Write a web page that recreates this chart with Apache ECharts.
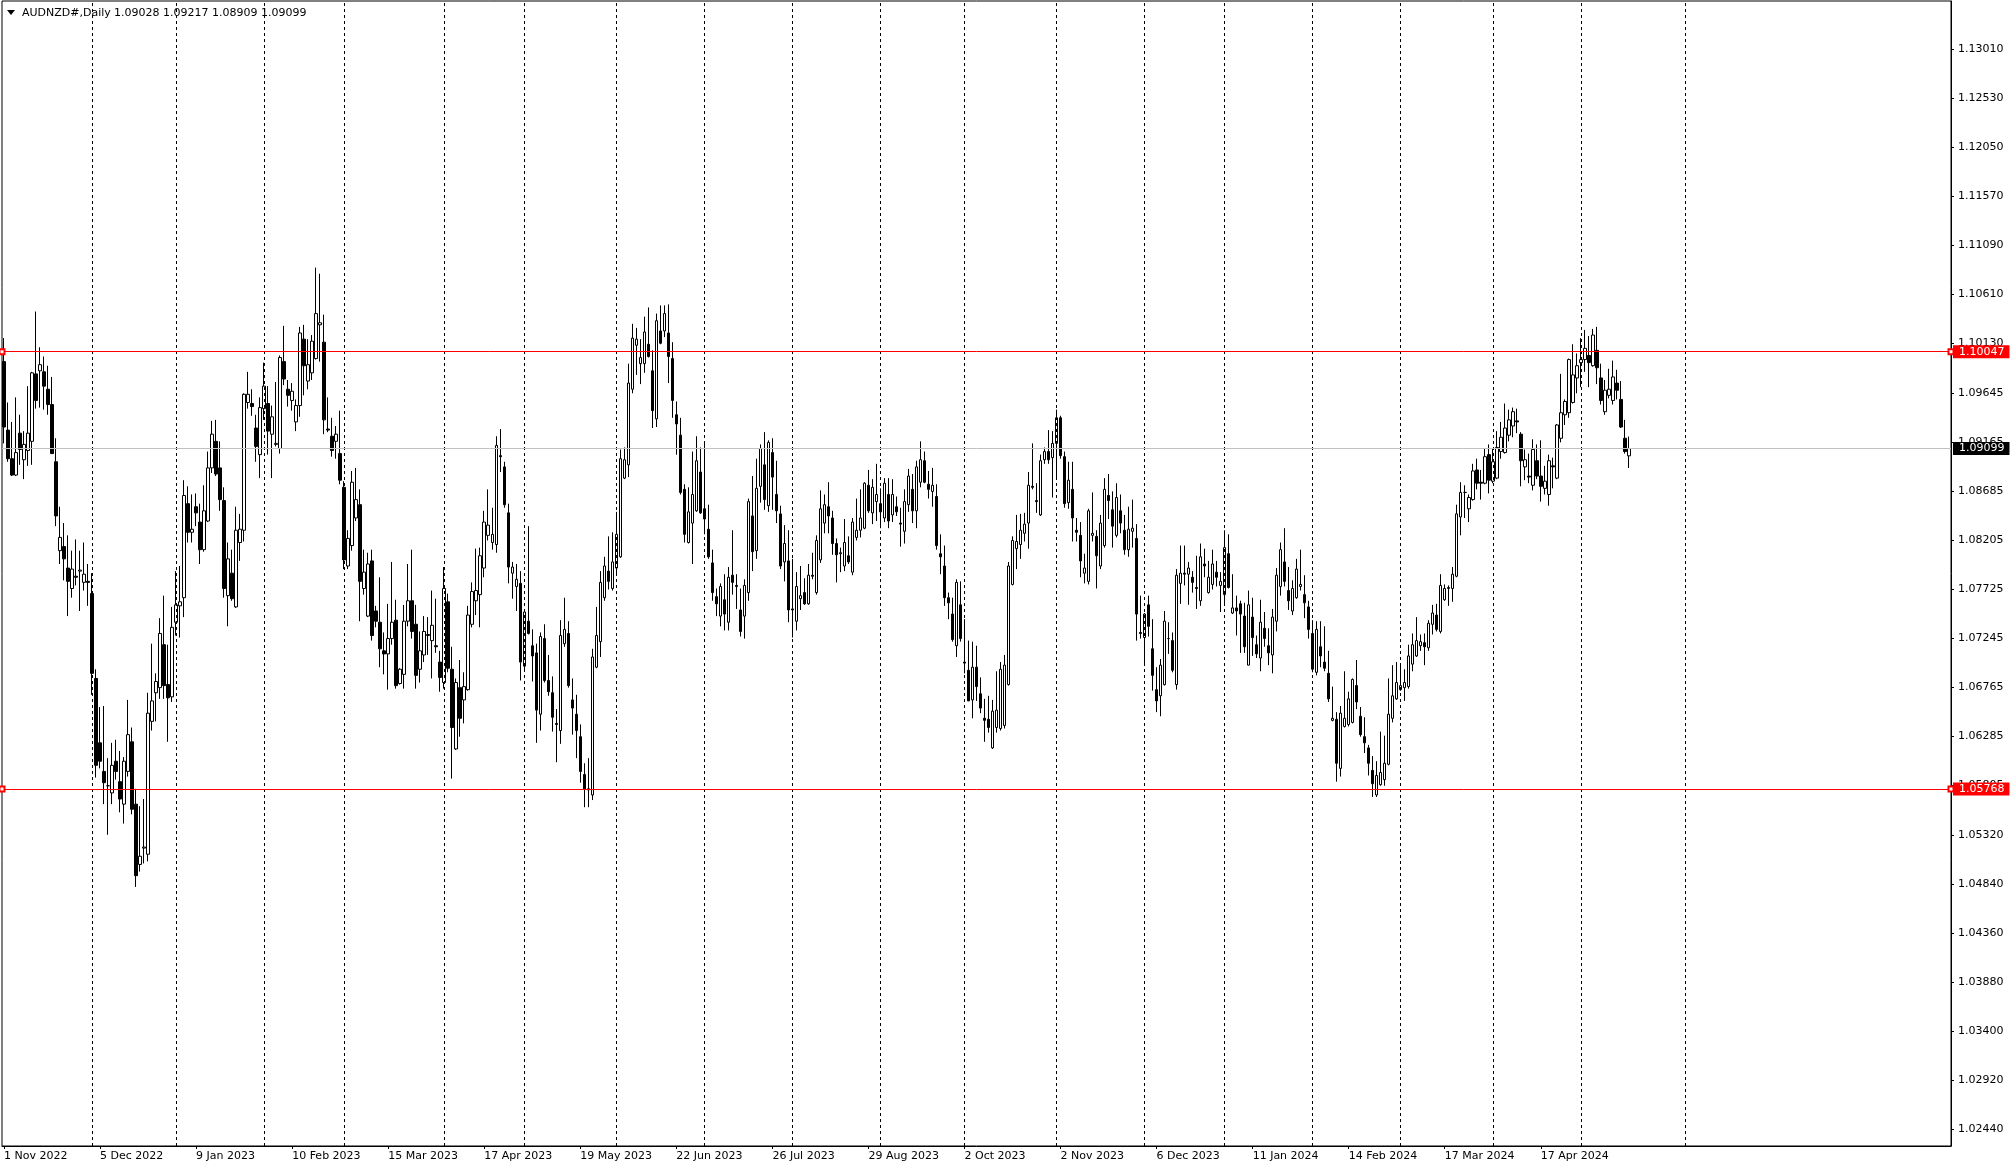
<!DOCTYPE html>
<html><head><meta charset="utf-8">
<script src="https://cdn.jsdelivr.net/npm/echarts@6/dist/echarts.min.js"></script>
<style>html,body{margin:0;padding:0;background:#fff}#c{width:2015px;height:1170px}</style>
</head><body><div id="c"></div>
<script>
const symbolName = 'AUDNZD#,Daily';
const dateLabels = ['1 Nov 2022','5 Dec 2022','9 Jan 2023','10 Feb 2023','15 Mar 2023','17 Apr 2023','19 May 2023','22 Jun 2023','26 Jul 2023','29 Aug 2023','2 Oct 2023','2 Nov 2023','6 Dec 2023','11 Jan 2024','14 Feb 2024','17 Mar 2024','17 Apr 2024'];
const priceTicks = [1.13010,1.12530,1.12050,1.11570,1.11090,1.10610,1.10130,1.09645,1.09165,1.08685,1.08205,1.07725,1.07245,1.06765,1.06285,1.05805,1.05320,1.04840,1.04360,1.03880,1.03400,1.02920,1.02440];
const levels = [1.10047, 1.05768];
const lastPrice = 1.09099;
const separators = [22,43,65,85,110,130,153,175,197,219,240,263,285,305,327,349,372,394,420];
// [open, high, low, close]
const ohlc = [
[1.0995,1.1018,1.0915,1.0931],[1.0928,1.0955,1.0897,1.0900],[1.0900,1.0936,1.0883,1.0884],[1.0884,1.0960,1.0883,1.0906],[1.0925,1.0943,1.0894,1.0909],
[1.0899,1.0927,1.0880,1.0914],[1.0908,1.0971,1.0893,1.0925],[1.0917,1.0985,1.0894,1.0984],[1.0983,1.1044,1.0949,1.0957],[1.0986,1.1009,1.0950,1.0992],
[1.0985,1.1000,1.0948,1.0971],[1.0968,1.0991,1.0943,1.0953],[1.0953,1.0980,1.0905,1.0905],[1.0897,1.0920,1.0834,1.0844],[1.0810,1.0853,1.0797,1.0823],
[1.0814,1.0837,1.0781,1.0802],[1.0793,1.0825,1.0746,1.0780],[1.0773,1.0810,1.0764,1.0792],[1.0785,1.0821,1.0776,1.0784],[1.0790,1.0810,1.0751,1.0791],
[1.0779,1.0818,1.0771,1.0787],[1.0780,1.0797,1.0756,1.0779],[1.0768,1.0788,1.0669,1.0690],[1.0685,1.0694,1.0588,1.0600],[1.0622,1.0657,1.0597,1.0604],
[1.0594,1.0658,1.0562,1.0583],[1.0580,1.0607,1.0532,1.0580],[1.0573,1.0622,1.0562,1.0600],[1.0604,1.0625,1.0586,1.0594],[1.0584,1.0614,1.0554,1.0567],
[1.0562,1.0608,1.0543,1.0604],[1.0594,1.0664,1.0589,1.0630],[1.0623,1.0637,1.0552,1.0557],[1.0562,1.0577,1.0481,1.0492],[1.0503,1.0560,1.0496,1.0511],
[1.0519,1.0567,1.0504,1.0520],[1.0513,1.0671,1.0506,1.0651],[1.0643,1.0719,1.0634,1.0663],[1.0671,1.0690,1.0643,1.0682],[1.0676,1.0744,1.0665,1.0729],
[1.0718,1.0766,1.0665,1.0678],[1.0679,1.0718,1.0623,1.0666],[1.0667,1.0755,1.0662,1.0735],[1.0740,1.0790,1.0727,1.0757],[1.0756,1.0795,1.0725,1.0760],
[1.0764,1.0879,1.0745,1.0864],[1.0856,1.0873,1.0818,1.0828],[1.0828,1.0865,1.0818,1.0831],[1.0853,1.0866,1.0834,1.0847],[1.0838,1.0856,1.0797,1.0811],
[1.0811,1.0874,1.0809,1.0849],[1.0839,1.0907,1.0838,1.0891],[1.0891,1.0937,1.0886,1.0924],[1.0917,1.0938,1.0883,1.0885],[1.0891,1.0917,1.0849,1.0860],
[1.0859,1.0872,1.0764,1.0773],[1.0766,1.0818,1.0736,1.0802],[1.0788,1.0811,1.0761,1.0763],[1.0755,1.0853,1.0754,1.0830],[1.0818,1.0846,1.0800,1.0831],
[1.0830,1.0964,1.0819,1.0963],[1.0955,1.0985,1.0949,1.0963],[1.0954,1.0968,1.0942,1.0951],[1.0930,1.0943,1.0897,1.0912],[1.0904,1.0960,1.0881,1.0950],
[1.0949,1.0994,1.0938,1.0971],[1.0954,1.0971,1.0904,1.0927],[1.0924,1.0952,1.0881,1.0941],[1.0914,1.0975,1.0912,1.0915],[1.0910,1.1001,1.0905,1.0999],
[1.0995,1.1030,1.0972,1.0978],[1.0968,1.0977,1.0951,1.0962],[1.0957,1.0974,1.0947,1.0966],[1.0936,1.0958,1.0927,1.0952],[1.0952,1.1029,1.0941,1.1023],
[1.1017,1.1031,1.0962,1.0991],[1.0976,1.1017,1.0968,1.0992],[1.0984,1.1021,1.0977,1.1015],[1.0998,1.1087,1.0997,1.1042],[1.1031,1.1081,1.0995,1.1033],
[1.1014,1.1041,1.0924,1.0938],[1.0929,1.0960,1.0926,1.0928],[1.0922,1.0940,1.0902,1.0908],[1.0917,1.0932,1.0900,1.0924],[1.0905,1.0947,1.0875,1.0879],
[1.0872,1.0878,1.0792,1.0801],[1.0795,1.0830,1.0792,1.0822],[1.0815,1.0888,1.0810,1.0877],[1.0842,1.0891,1.0839,1.0860],[1.0855,1.0870,1.0741,1.0780],
[1.0773,1.0811,1.0767,1.0789],[1.0746,1.0808,1.0745,1.0797],[1.0800,1.0811,1.0722,1.0727],[1.0751,1.0756,1.0735,1.0741],[1.0740,1.0784,1.0696,1.0714],
[1.0712,1.0730,1.0689,1.0709],[1.0709,1.0758,1.0674,1.0724],[1.0724,1.0799,1.0718,1.0740],[1.0742,1.0762,1.0675,1.0678],[1.0680,1.0695,1.0679,1.0694],
[1.0689,1.0757,1.0675,1.0741],[1.0741,1.0797,1.0736,1.0761],[1.0761,1.0811,1.0724,1.0731],[1.0738,1.0757,1.0675,1.0688],[1.0694,1.0731,1.0681,1.0712],
[1.0708,1.0746,1.0701,1.0731],[1.0727,1.0745,1.0708,1.0728],[1.0722,1.0771,1.0685,1.0737],[1.0717,1.0763,1.0710,1.0716],[1.0701,1.0712,1.0672,1.0686],
[1.0681,1.0794,1.0675,1.0773],[1.0760,1.0768,1.0691,1.0695],[1.0694,1.0716,1.0587,1.0637],[1.0616,1.0685,1.0615,1.0681],[1.0676,1.0703,1.0628,1.0646],
[1.0664,1.0691,1.0641,1.0677],[1.0674,1.0756,1.0673,1.0747],[1.0738,1.0779,1.0735,1.0770],[1.0761,1.0812,1.0747,1.0771],[1.0767,1.0813,1.0735,1.0805],
[1.0793,1.0849,1.0784,1.0838],[1.0825,1.0870,1.0820,1.0835],[1.0818,1.0852,1.0811,1.0826],[1.0816,1.0922,1.0808,1.0913],[1.0903,1.0929,1.0887,1.0902],
[1.0892,1.0897,1.0852,1.0855],[1.0847,1.0856,1.0778,1.0794],[1.0788,1.0799,1.0763,1.0794],[1.0775,1.0797,1.0751,1.0782],[1.0778,1.0790,1.0683,1.0701],
[1.0697,1.0751,1.0694,1.0750],[1.0741,1.0834,1.0728,1.0729],[1.0717,1.0733,1.0682,1.0707],[1.0710,1.0719,1.0622,1.0654],[1.0650,1.0730,1.0634,1.0726],
[1.0724,1.0738,1.0681,1.0683],[1.0683,1.0708,1.0668,1.0672],[1.0671,1.0687,1.0633,1.0647],[1.0641,1.0655,1.0603,1.0640],[1.0634,1.0742,1.0621,1.0727],
[1.0719,1.0764,1.0716,1.0733],[1.0729,1.0741,1.0676,1.0678],[1.0664,1.0685,1.0630,1.0656],[1.0650,1.0669,1.0607,1.0634],[1.0628,1.0640,1.0583,1.0594],
[1.0591,1.0602,1.0559,1.0577],[1.0577,1.0607,1.0559,1.0576],[1.0571,1.0714,1.0566,1.0706],[1.0696,1.0755,1.0695,1.0727],[1.0721,1.0790,1.0706,1.0779],
[1.0764,1.0804,1.0761,1.0795],[1.0790,1.0824,1.0772,1.0780],[1.0773,1.0828,1.0771,1.0799],[1.0793,1.0848,1.0786,1.0826],[1.0804,1.0909,1.0803,1.0900],
[1.0881,1.0911,1.0880,1.0899],[1.0894,1.0993,1.0882,1.0974],[1.0968,1.1032,1.0964,1.1018],[1.1011,1.1028,1.0982,1.1017],[1.0993,1.1017,1.0973,1.0999],
[1.0993,1.1039,1.0984,1.1024],[1.1012,1.1048,1.0999,1.1000],[1.0986,1.1006,1.0930,1.0947],[1.0939,1.1042,1.0931,1.1035],[1.1025,1.1050,1.1012,1.1013],
[1.1025,1.1050,1.1019,1.1042],[1.1023,1.1051,1.0974,1.1000],[1.0998,1.1014,1.0940,1.0957],[1.0943,1.0956,1.0904,1.0934],[1.0923,1.0940,1.0865,1.0867],
[1.0870,1.0875,1.0818,1.0826],[1.0818,1.0872,1.0817,1.0848],[1.0837,1.0907,1.0797,1.0865],[1.0849,1.0922,1.0848,1.0898],[1.0887,1.0911,1.0846,1.0847],
[1.0851,1.0916,1.0826,1.0841],[1.0831,1.0855,1.0802,1.0804],[1.0798,1.0811,1.0761,1.0769],[1.0765,1.0773,1.0746,1.0758],[1.0746,1.0778,1.0736,1.0775],
[1.0762,1.0787,1.0732,1.0748],[1.0740,1.0794,1.0732,1.0784],[1.0786,1.0830,1.0767,1.0779],[1.0776,1.0787,1.0753,1.0775],[1.0752,1.0773,1.0726,1.0731],
[1.0746,1.0782,1.0724,1.0776],[1.0769,1.0861,1.0761,1.0858],[1.0844,1.0883,1.0790,1.0809],[1.0810,1.0900,1.0802,1.0871],[1.0873,1.0914,1.0857,1.0910],
[1.0894,1.0926,1.0850,1.0860],[1.0854,1.0918,1.0848,1.0916],[1.0906,1.0920,1.0850,1.0882],[1.0865,1.0898,1.0837,1.0849],[1.0846,1.0854,1.0792,1.0795],
[1.0799,1.0835,1.0780,1.0817],[1.0800,1.0830,1.0740,1.0752],[1.0752,1.0802,1.0725,1.0753],[1.0741,1.0789,1.0732,1.0775],[1.0763,1.0795,1.0752,1.0766],
[1.0769,1.0783,1.0757,1.0758],[1.0758,1.0797,1.0757,1.0786],[1.0786,1.0808,1.0782,1.0785],[1.0769,1.0825,1.0767,1.0820],[1.0801,1.0869,1.0798,1.0851],
[1.0837,1.0865,1.0827,1.0855],[1.0853,1.0877,1.0827,1.0844],[1.0842,1.0849,1.0806,1.0817],[1.0817,1.0822,1.0779,1.0806],[1.0807,1.0813,1.0789,1.0808],
[1.0795,1.0841,1.0790,1.0818],[1.0805,1.0824,1.0797,1.0799],[1.0789,1.0842,1.0786,1.0838],[1.0823,1.0861,1.0820,1.0830],[1.0830,1.0870,1.0823,1.0842],
[1.0832,1.0877,1.0831,1.0876],[1.0874,1.0889,1.0847,1.0849],[1.0847,1.0880,1.0836,1.0872],[1.0858,1.0895,1.0839,1.0865],[1.0856,1.0871,1.0832,1.0848],
[1.0842,1.0881,1.0838,1.0876],[1.0865,1.0881,1.0832,1.0839],[1.0845,1.0880,1.0838,1.0865],[1.0853,1.0863,1.0844,1.0848],[1.0837,1.0852,1.0814,1.0836],
[1.0829,1.0870,1.0817,1.0858],[1.0855,1.0890,1.0848,1.0883],[1.0870,1.0885,1.0837,1.0849],[1.0849,1.0898,1.0832,1.0892],[1.0877,1.0917,1.0872,1.0899],
[1.0898,1.0907,1.0876,1.0877],[1.0875,1.0888,1.0861,1.0870],[1.0868,1.0891,1.0853,1.0874],[1.0863,1.0875,1.0811,1.0815],[1.0807,1.0826,1.0787,1.0804],
[1.0795,1.0815,1.0756,1.0764],[1.0764,1.0769,1.0743,1.0759],[1.0748,1.0764,1.0721,1.0723],[1.0717,1.0782,1.0706,1.0779],[1.0757,1.0780,1.0721,1.0724],
[1.0701,1.0743,1.0690,1.0700],[1.0693,1.0722,1.0663,1.0663],[1.0664,1.0721,1.0646,1.0696],[1.0696,1.0717,1.0663,1.0677],[1.0670,1.0686,1.0651,1.0656],
[1.0646,1.0665,1.0623,1.0644],[1.0645,1.0668,1.0632,1.0637],[1.0617,1.0664,1.0616,1.0653],[1.0637,1.0692,1.0632,1.0654],[1.0636,1.0701,1.0634,1.0694],
[1.0639,1.0708,1.0636,1.0698],[1.0679,1.0799,1.0678,1.0795],[1.0777,1.0824,1.0776,1.0820],[1.0812,1.0845,1.0792,1.0819],[1.0816,1.0846,1.0802,1.0830],
[1.0827,1.0847,1.0819,1.0836],[1.0837,1.0887,1.0812,1.0874],[1.0873,1.0915,1.0870,1.0872],[1.0859,1.0876,1.0847,1.0858],[1.0845,1.0904,1.0844,1.0898],
[1.0899,1.0911,1.0895,1.0907],[1.0907,1.0928,1.0895,1.0899],[1.0901,1.0927,1.0862,1.0915],[1.0915,1.0948,1.0881,1.0940],[1.0940,1.0942,1.0900,1.0903],
[1.0902,1.0907,1.0852,1.0856],[1.0857,1.0897,1.0851,1.0879],[1.0870,1.0897,1.0819,1.0842],[1.0830,1.0842,1.0819,1.0828],[1.0825,1.0838,1.0784,1.0800],
[1.0788,1.0807,1.0778,1.0793],[1.0780,1.0851,1.0777,1.0849],[1.0825,1.0867,1.0819,1.0827],[1.0824,1.0830,1.0773,1.0805],[1.0795,1.0845,1.0792,1.0837],
[1.0815,1.0881,1.0813,1.0870],[1.0864,1.0885,1.0841,1.0859],[1.0850,1.0868,1.0813,1.0834],[1.0825,1.0876,1.0823,1.0862],[1.0849,1.0865,1.0827,1.0837],
[1.0830,1.0845,1.0806,1.0811],[1.0811,1.0853,1.0804,1.0831],[1.0829,1.0860,1.0813,1.0832],[1.0822,1.0836,1.0722,1.0748],[1.0730,1.0766,1.0724,1.0729],
[1.0725,1.0749,1.0698,1.0748],[1.0757,1.0766,1.0726,1.0736],[1.0714,1.0743,1.0673,1.0688],[1.0674,1.0696,1.0652,1.0663],[1.0668,1.0704,1.0648,1.0698],
[1.0679,1.0751,1.0678,1.0741],[1.0724,1.0740,1.0709,1.0724],[1.0722,1.0730,1.0691,1.0693],[1.0679,1.0792,1.0674,1.0786],[1.0778,1.0815,1.0758,1.0788],
[1.0788,1.0815,1.0776,1.0787],[1.0787,1.0799,1.0757,1.0793],[1.0784,1.0790,1.0769,1.0779],[1.0774,1.0805,1.0753,1.0773],[1.0761,1.0817,1.0756,1.0804],
[1.0797,1.0812,1.0784,1.0795],[1.0769,1.0800,1.0768,1.0784],[1.0777,1.0811,1.0772,1.0797],[1.0789,1.0800,1.0775,1.0784],[1.0776,1.0789,1.0750,1.0780],
[1.0767,1.0830,1.0756,1.0813],[1.0807,1.0826,1.0773,1.0774],[1.0749,1.0787,1.0748,1.0754],[1.0754,1.0766,1.0727,1.0751],[1.0758,1.0761,1.0710,1.0748],
[1.0746,1.0759,1.0710,1.0716],[1.0698,1.0771,1.0698,1.0757],[1.0745,1.0764,1.0707,1.0725],[1.0718,1.0727,1.0705,1.0709],[1.0705,1.0762,1.0692,1.0740],
[1.0734,1.0750,1.0716,1.0724],[1.0717,1.0734,1.0698,1.0710],[1.0708,1.0753,1.0690,1.0745],[1.0741,1.0793,1.0731,1.0786],[1.0775,1.0818,1.0766,1.0811],
[1.0799,1.0832,1.0775,1.0780],[1.0771,1.0794,1.0752,1.0761],[1.0751,1.0781,1.0747,1.0773],[1.0764,1.0802,1.0763,1.0792],[1.0775,1.0811,1.0771,1.0777],
[1.0767,1.0786,1.0744,1.0759],[1.0755,1.0761,1.0724,1.0733],[1.0729,1.0742,1.0691,1.0694],[1.0691,1.0741,1.0688,1.0733],[1.0716,1.0741,1.0696,1.0707],
[1.0701,1.0736,1.0692,1.0695],[1.0690,1.0712,1.0662,1.0665],[1.0644,1.0677,1.0643,1.0646],[1.0645,1.0652,1.0584,1.0602],[1.0597,1.0658,1.0589,1.0651],
[1.0638,1.0692,1.0637,1.0646],[1.0640,1.0672,1.0638,1.0665],[1.0642,1.0685,1.0641,1.0684],[1.0678,1.0703,1.0655,1.0662],[1.0648,1.0657,1.0628,1.0630],
[1.0628,1.0647,1.0612,1.0622],[1.0617,1.0620,1.0590,1.0602],[1.0595,1.0609,1.0569,1.0582],[1.0571,1.0604,1.0569,1.0590],[1.0581,1.0633,1.0580,1.0593],
[1.0586,1.0629,1.0580,1.0602],[1.0601,1.0685,1.0600,1.0650],[1.0646,1.0698,1.0642,1.0668],[1.0665,1.0701,1.0664,1.0681],[1.0674,1.0700,1.0673,1.0678],
[1.0676,1.0694,1.0663,1.0681],[1.0677,1.0718,1.0675,1.0707],[1.0699,1.0729,1.0692,1.0718],[1.0707,1.0745,1.0706,1.0722],[1.0717,1.0728,1.0712,1.0721],
[1.0720,1.0729,1.0698,1.0716],[1.0715,1.0742,1.0712,1.0739],[1.0738,1.0757,1.0728,1.0749],[1.0747,1.0758,1.0731,1.0733],[1.0731,1.0787,1.0729,1.0776],
[1.0762,1.0777,1.0761,1.0773],[1.0773,1.0776,1.0756,1.0774],[1.0773,1.0794,1.0760,1.0787],[1.0785,1.0855,1.0784,1.0846],[1.0843,1.0877,1.0825,1.0867],
[1.0867,1.0874,1.0842,1.0867],[1.0851,1.0865,1.0838,1.0862],[1.0860,1.0895,1.0859,1.0888],[1.0889,1.0900,1.0870,1.0876],[1.0877,1.0889,1.0860,1.0876],
[1.0876,1.0910,1.0875,1.0902],[1.0904,1.0914,1.0866,1.0879],[1.0878,1.0910,1.0876,1.0897],[1.0881,1.0927,1.0880,1.0911],[1.0907,1.0936,1.0900,1.0921],
[1.0906,1.0954,1.0905,1.0930],[1.0923,1.0948,1.0917,1.0938],[1.0932,1.0950,1.0921,1.0946],[1.0937,1.0949,1.0925,1.0936],[1.0924,1.0926,1.0873,1.0898],
[1.0892,1.0909,1.0879,1.0899],[1.0883,1.0905,1.0876,1.0882],[1.0874,1.0919,1.0869,1.0909],[1.0898,1.0914,1.0880,1.0883],[1.0883,1.0918,1.0858,1.0873],
[1.0871,1.0893,1.0865,1.0878],[1.0865,1.0904,1.0854,1.0898],[1.0893,1.0901,1.0871,1.0892],[1.0881,1.0934,1.0880,1.0933],[1.0920,1.0983,1.0916,1.0945],
[1.0943,1.0958,1.0933,1.0956],[1.0945,1.0998,1.0940,1.0997],[1.0955,1.1012,1.0954,1.0982],[1.0979,1.1003,1.0964,1.0991],[1.0994,1.1018,1.0970,1.0997],
[1.0997,1.1026,1.0985,1.1008],[1.1001,1.1020,1.0970,1.0994],[1.0991,1.1027,1.0990,1.1021],[1.1006,1.1029,1.0973,1.0989],[1.0979,1.0993,1.0953,1.0957],
[1.0946,1.0977,1.0943,1.0967],[1.0962,1.0988,1.0959,1.0968],[1.0957,1.0996,1.0953,1.0980],[1.0974,1.0987,1.0958,1.0967],[1.0958,1.0976,1.0930,1.0931],
[1.0920,1.0938,1.0905,1.0907],[1.09028,1.09217,1.08909,1.09099]
];

const FONT = '"DejaVu Sans"';
const totalSlots = 487;
const cats = Array.from({length: totalSlots}, (_, i) => String(i));
const candleData = ohlc.map(d => [d[0], d[3], d[2], d[1]]);
const last = ohlc[ohlc.length - 1];
const headerNums = last.map(v => v.toFixed(5)).join(' ');
const isLabelSlot = (i) => i % 24 === 0 && i / 24 < dateLabels.length;

const chart = echarts.init(document.getElementById('c'), null, {renderer: 'canvas'});
chart.setOption({
  animation: false,
  backgroundColor: '#ffffff',
  textStyle: {fontFamily: FONT},
  grid: {left: 2, right: 64, top: 1, bottom: 24, show: true, borderColor: '#000', borderWidth: 1, backgroundColor: '#fff'},
  xAxis: {
    type: 'category', data: cats, boundaryGap: true,
    axisLine: {show: true, lineStyle: {color: '#000', width: 1}},
    axisTick: {show: true, interval: (i) => isLabelSlot(i), alignWithLabel: true, length: 3, lineStyle: {color: '#000'}},
    axisLabel: {
      interval: (i) => isLabelSlot(i), align: 'left', margin: 5, color: '#000', fontSize: 11, fontFamily: FONT,
      formatter: (v) => { const i = +v; return isLabelSlot(i) ? dateLabels[i / 24] : ''; }
    },
    splitLine: {show: false}
  },
  yAxis: {
    type: 'value', position: 'right', min: 1.02275, max: 1.134785,
    axisLine: {show: true, onZero: false, lineStyle: {color: '#000', width: 1}},
    axisTick: {show: true, customValues: priceTicks, length: 3, lineStyle: {color: '#000'}},
    axisLabel: {customValues: priceTicks, formatter: (v) => Number(v).toFixed(5), margin: 7, color: '#000', fontSize: 11, fontFamily: FONT},
    splitLine: {show: false}
  },
  graphic: [
    {type: 'polygon', shape: {points: [[7, 10], [15, 10], [11, 15]]}, style: {fill: '#000'}},
    {type: 'text', x: 22, y: 13, style: {text: symbolName, font: '11px ' + FONT, fill: '#000', verticalAlign: 'middle'}},
    {type: 'text', x: 114, y: 13, style: {text: headerNums, font: '11px ' + FONT, fill: '#000', verticalAlign: 'middle'}}
  ],
  series: [
    {
      name: 'separators', type: 'line', data: [], z: 1, silent: true,
      markLine: {
        silent: true, animation: false, symbol: 'none', label: {show: false},
        lineStyle: {color: '#000', width: 1, type: [3, 3]},
        data: separators.map(i => ({xAxis: i}))
      }
    },
    {
      name: 'AUDNZD', type: 'candlestick', data: candleData, z: 2, barWidth: 3,
      itemStyle: {color: '#ffffff', color0: '#000000', borderColor: '#000000', borderColor0: '#000000', borderColorDoji: '#000000', borderWidth: 1}
    },
    {
      name: 'price', type: 'line', data: [], z: 3, silent: true,
      markLine: {
        silent: true, animation: false, symbol: 'none', precision: 5,
        lineStyle: {color: '#c0c0c0', width: 1, type: 'solid'},
        label: {show: true, position: 'end', distance: 2, formatter: (p) => Number(p.value).toFixed(5), color: '#fff', backgroundColor: '#000', padding: [1, 5, 1, 6], fontSize: 11, fontFamily: FONT},
        data: [{yAxis: lastPrice}]
      }
    },
    {
      name: 'levels', type: 'line', data: [], z: 4, silent: true,
      markLine: {
        silent: true, animation: false, symbol: ['emptyRect', 'emptyRect'], symbolSize: 5, precision: 5,
        lineStyle: {color: '#ff0000', width: 1, type: 'solid'},
        label: {show: true, position: 'end', distance: 2, formatter: (p) => Number(p.value).toFixed(5), color: '#fff', backgroundColor: '#ff0000', padding: [1, 5, 1, 6], fontSize: 11, fontFamily: FONT},
        data: levels.map(v => ({yAxis: v}))
      }
    }
  ]
});
</script>
</body></html>
